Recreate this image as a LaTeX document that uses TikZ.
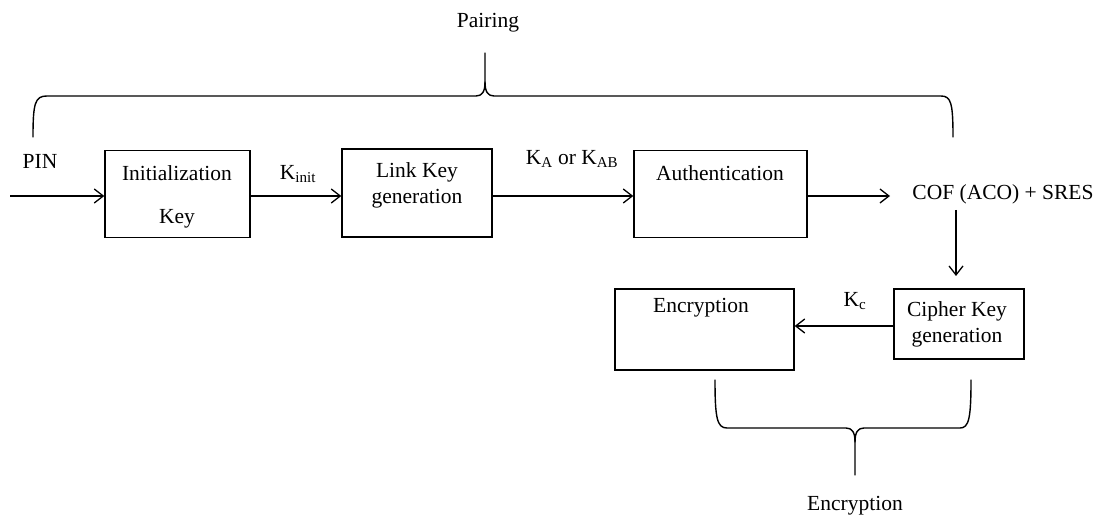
\documentclass[tikz,border=0pt]{standalone}
\usepackage{fontspec}
\setmainfont{Liberation Serif}
\usetikzlibrary{arrows.meta}
\tikzset{
  box/.style={draw, line width=1.4pt, inner sep=0pt},
  lbl/.style={inner sep=1pt, font=\fontsize{21.5pt}{25pt}\selectfont},
  arr/.style={line width=1.3pt, -{Straight Barb[length=9pt,width=14pt,line width=1.3pt]}},
  bracestyle/.style={line width=1.4pt, line join=round, line cap=round},
}
\begin{document}
\begin{tikzpicture}[x=1pt,y=-1pt]
\useasboundingbox (0,0) rectangle (1097,518);
% boxes
\node[box, minimum width=145pt, minimum height=87pt] (init) at (177.5,194) {};
\node[box, minimum width=150pt, minimum height=88pt] (link) at (417,193) {};
\node[box, minimum width=173pt, minimum height=87pt] (auth) at (720.5,194) {};
\node[box, minimum width=130pt, minimum height=70pt] (cipher) at (959,324) {};
\node[box, minimum width=179pt, minimum height=81pt] (enc) at (704.5,329.5) {};
% texts in boxes
\node[lbl] (initT1) at (177,173) {Initialization};
\node[lbl] (initT2) at (177,219) {Key};
\node[lbl] (linkT1) at (417,172) {Link Key};
\node[lbl] (linkT2) at (417,199) {generation};
\node[lbl] (authT) at (720,173) {Authentication};
\node[lbl] (cipherT1) at (957,311) {Cipher Key};
\node[lbl] (cipherT2) at (957,338) {generation};
\node[lbl] (encT) at (701,308) {Encryption};
% other labels
\node[lbl] (pairing) at (488,23) {Pairing};
\node[lbl] (pin) at (40,161) {PIN};
\node[lbl] (kinit) at (298,174) {K\textsubscript{init}};
\node[lbl] (kab) at (572,159) {K\textsubscript{A} or K\textsubscript{AB}};
\node[lbl] (cof) at (1003,194) {COF (ACO) + SRES};
\node[lbl] (kc) at (855,301) {K\textsubscript{c}};
\node[lbl] (encB) at (855,506) {Encryption};
% connectors
\coordinate (pinstart) at (10,196);
\draw[arr] (pinstart) -- (pinstart -| init.west);
\draw[arr] (init.east |- 0,196) -- (link.west |- 0,196);
\draw[arr] (link.east |- 0,196) -- (auth.west |- 0,196);
\coordinate (cofin) at (890,196);
\draw[arr] (auth.east |- 0,196) -- (cofin);
\coordinate (cofdown) at (956,210);
\coordinate (cipherin) at (956,276);
\draw[arr] (cofdown) -- (cipherin);
\draw[arr] (cipher.west |- 0,326) -- (enc.east |- 0,326);
% top brace (Pairing)
\draw[bracestyle] (33,137) .. controls (33,103) and (35,96) .. (47,96) -- (476,96)
  .. controls (482,96) and (485,92) .. (485,82) -- (485,53);
\draw[bracestyle] (485,82) .. controls (485,92) and (488,96) .. (494,96) -- (941,96)
  .. controls (951,96) and (953,103) .. (953,137);
% bottom brace (Encryption)
\draw[bracestyle] (715,380) .. controls (715,418) and (717,428) .. (727,428) -- (846,428)
  .. controls (852,428) and (855,432) .. (855,442) -- (855,475);
\draw[bracestyle] (855,442) .. controls (855,432) and (858,428) .. (864,428) -- (960,428)
  .. controls (969,428) and (971,418) .. (971,380);
\end{tikzpicture}
\end{document}
